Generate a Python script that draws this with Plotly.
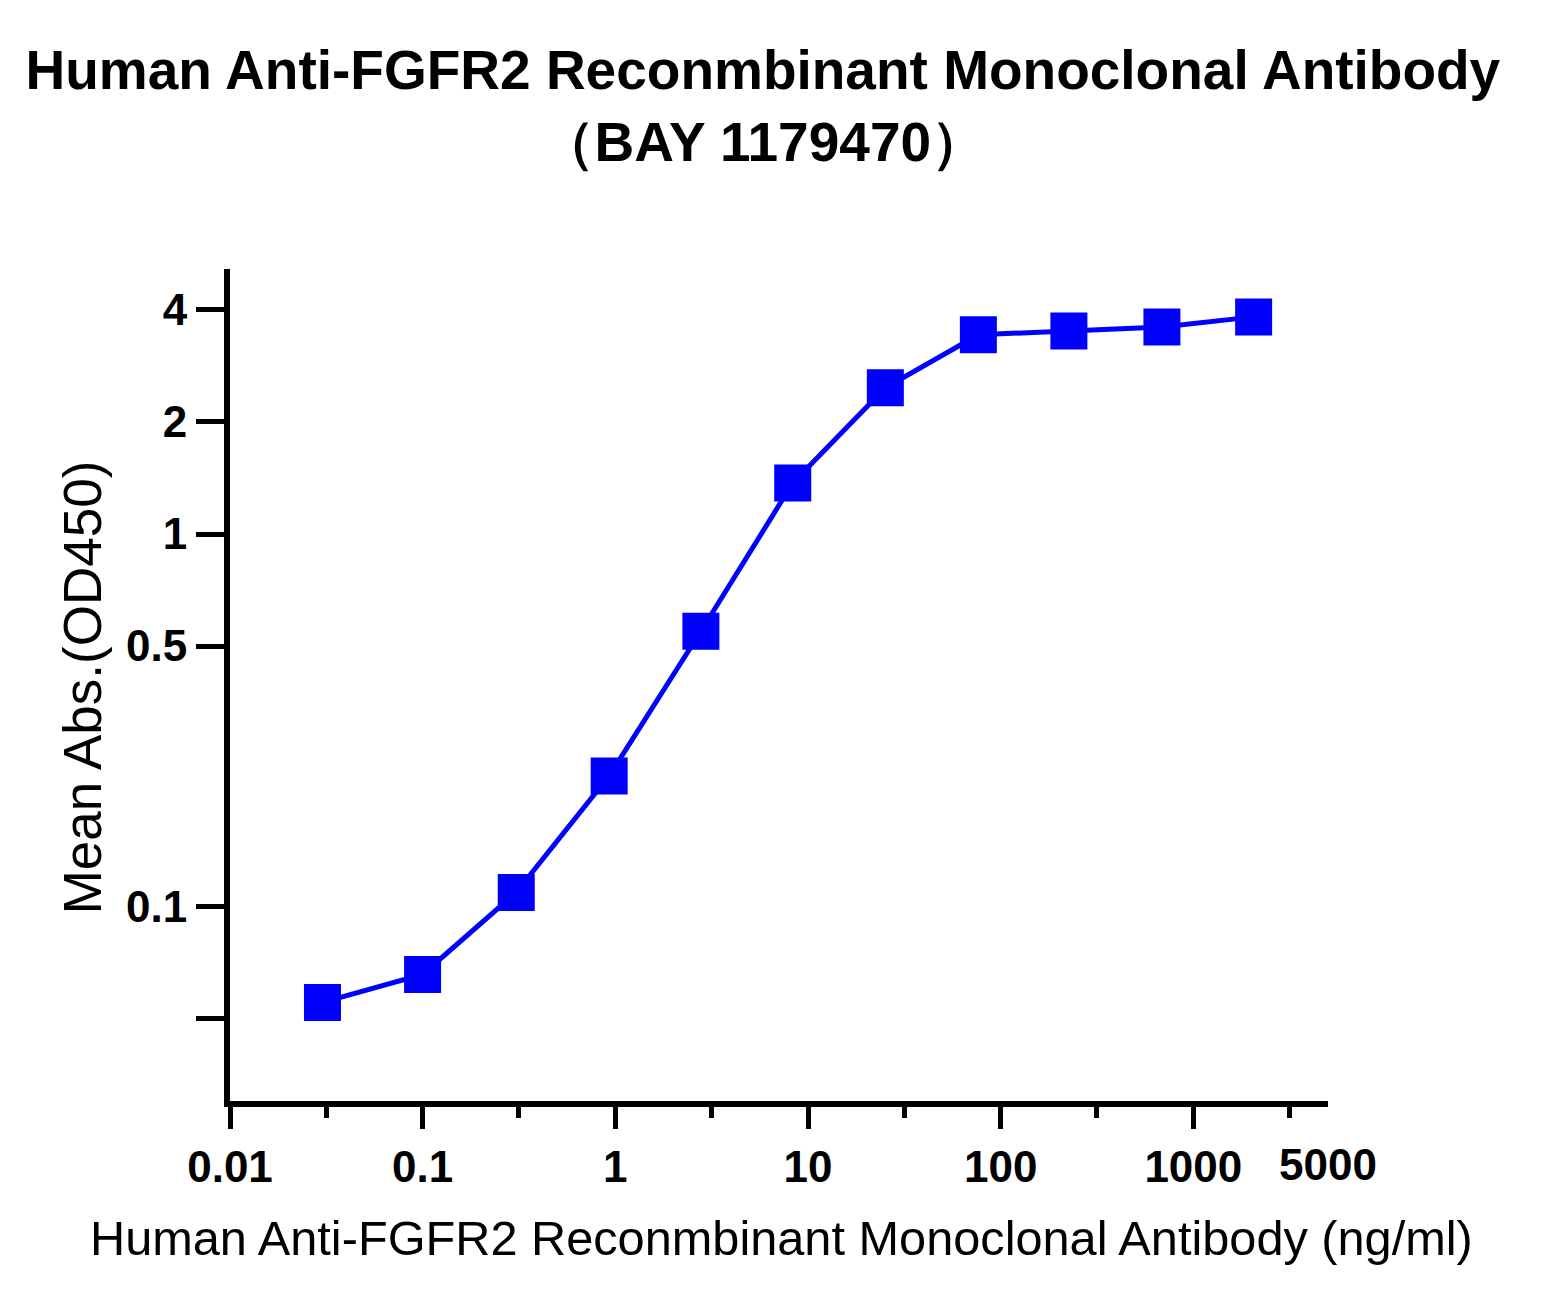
import math
import plotly.graph_objects as go

conc = [0.0302, 0.0999, 0.306, 0.929, 2.78, 8.33, 25.2, 76.6, 226, 687, 2056]
od450 = [0.0552, 0.0656, 0.109, 0.224, 0.548, 1.37, 2.47, 3.43, 3.51, 3.60, 3.83]

x_major = [0.01, 0.1, 1, 10, 100, 1000]
x_major_text = ["0.01", "0.1", "1", "10", "100", "1000"]
x_minor = [0.0316, 0.316, 3.16, 31.6, 316, 3162]
x_end_label = "5000"
x_range = [0.01, 5000]

y_ticks = [0.05, 0.1, 0.5, 1, 2, 4]
y_text = ["", "0.1", "0.5", "1", "2", "4"]
y_range = [0.03, 5.15]

title_l1 = "Human Anti-FGFR2 Reconmbinant Monoclonal Antibody"
title_l2 = "（BAY 1179470）"
x_title = "Human Anti-FGFR2 Reconmbinant Monoclonal Antibody (ng/ml)"
y_title = "Mean Abs.(OD450)"

FONT = "Liberation Sans, Arial, sans-serif"

fig = go.Figure()
fig.add_trace(go.Scatter(
    x=conc, y=od450, mode="lines+markers",
    line=dict(color="#0000FF", width=5),
    marker=dict(symbol="square", size=37, color="#0000FF"),
    showlegend=False,
))

fig.update_layout(
    width=1550, height=1308,
    paper_bgcolor="white", plot_bgcolor="white",
    margin=dict(l=222, r=230, t=261, b=215, autoexpand=False),
    title=dict(
        text=f"<b>{title_l1}</b><br><b>{title_l2}</b>",
        x=0.487, xanchor="center", xref="container",
        y=1 - 81 / 1308, yanchor="middle", yref="container",
        font=dict(family=FONT, size=55, color="black"),
    ),
    font=dict(family=FONT, color="black"),
)

fig.update_xaxes(
    type="log", range=[math.log10(x_range[0]), math.log10(x_range[1])],
    automargin=False,
    showline=True, linecolor="black", linewidth=6,
    showgrid=False, zeroline=False,
    tickmode="array", tickvals=x_major, ticktext=[f"<b>{t}</b>" for t in x_major_text],
    ticks="outside", ticklen=22, tickwidth=5, tickcolor="black",
    tickfont=dict(family=FONT, size=44, color="black"),
    minor=dict(tickmode="array", tickvals=x_minor, ticks="outside",
               ticklen=11, tickwidth=5, tickcolor="black", showgrid=False),
)
fig.update_yaxes(
    type="log", range=[math.log10(y_range[0]), math.log10(y_range[1])],
    automargin=False,
    showline=True, linecolor="black", linewidth=6,
    showgrid=False, zeroline=False,
    tickmode="array", tickvals=y_ticks, ticktext=[f"<b>{t}</b>" for t in y_text],
    ticks="outside", ticklen=28, tickwidth=5, tickcolor="black",
    tickfont=dict(family=FONT, size=44, color="black"),
)

# end-of-axis label (no tick mark at 5000 in the reference)
fig.add_annotation(
    x=math.log10(5000), y=0, xref="x", yref="paper",
    text=f"<b>{x_end_label}</b>", showarrow=False,
    yanchor="middle", yshift=-63,
    font=dict(family=FONT, size=44, color="black"),
)
# axis titles
fig.add_annotation(
    x=0.502, y=-0.165, xref="paper", yref="paper",
    text=x_title, showarrow=False, xanchor="center", yanchor="middle",
    font=dict(family=FONT, size=48.7, color="black"),
)
fig.add_annotation(
    x=-0.134, y=0.497, xref="paper", yref="paper",
    text=y_title, showarrow=False, textangle=-90,
    xanchor="center", yanchor="middle",
    font=dict(family=FONT, size=53, color="black"),
)

fig.write_html("out.html")
